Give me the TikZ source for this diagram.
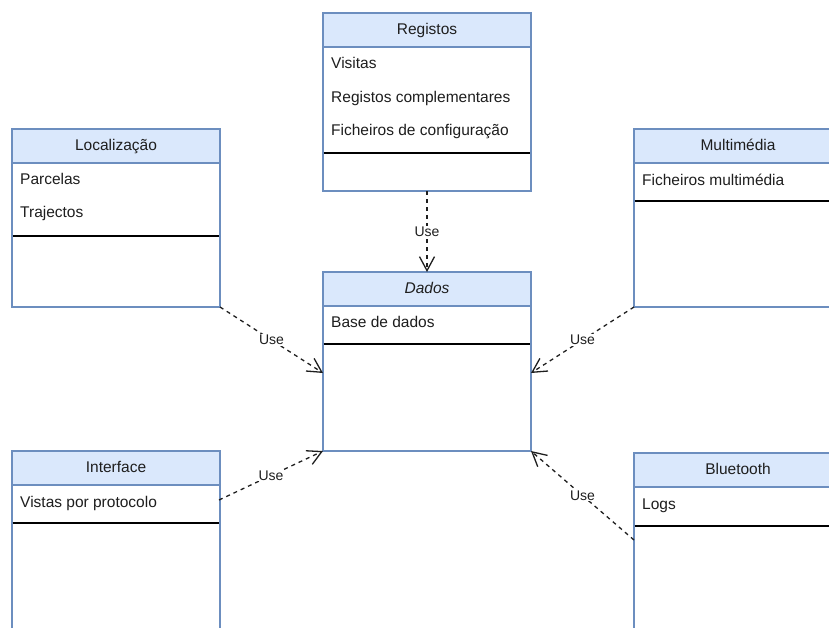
\documentclass[tikz,border=0pt]{standalone}
\usepackage{fontspec}
\setmainfont{Liberation Sans}
\usetikzlibrary{arrows.meta}
\definecolor{hdrfill}{HTML}{DAE8FC}
\definecolor{hdrline}{HTML}{6C8EBF}
\definecolor{txt}{HTML}{1E1E1E}

\begin{document}
\begin{tikzpicture}[x=1pt,y=-1pt,
  frame/.style={draw=hdrline, line width=1.3pt, fill=white, inner sep=0pt, outer sep=0pt,
                anchor=north west, minimum width=208pt},
  header/.style={draw=hdrline, line width=1.3pt, fill=hdrfill, inner sep=0pt, outer sep=0pt,
                 anchor=north west, minimum width=208pt, minimum height=34pt,
                 text height=11.5pt, text depth=2pt,
                 font=\fontsize{15.5}{18}\selectfont, text=txt},
  item/.style={anchor=west, inner sep=0pt, text height=11.5pt, text depth=2pt,
               font=\fontsize{15.5}{18}\selectfont, text=txt},
  sep/.style={line width=1.3pt, black},
  use/.style={dash pattern=on 4pt off 4pt, line width=1.3pt, draw=txt,
              -{Straight Barb[length=14pt,width=15pt,line width=1.3pt]}},
  lbl/.style={fill=white, inner sep=1pt, font=\fontsize{14}{16}\selectfont, text=txt}]

\useasboundingbox (0,0) rectangle (829,627);
\clip (0,0) rectangle (829,627);

% Registos
\node[frame, minimum height=178pt] (reg) at (323,13) {};
\node[header] (regh) at (323,13) {Registos};
\node[item] (reg1) at (331,64) {Visitas};
\node[item] (reg2) at (331,98) {Registos complementares};
\node[item] (reg3) at (331,131) {Ficheiros de configuração};
\draw[sep] (323.7,153) -- (530.3,153);

% Localização
\node[frame, minimum height=178pt] (loc) at (12,129) {};
\node[header] (loch) at (12,129) {Localização};
\node[item] (loc1) at (20,180) {Parcelas};
\node[item] (loc2) at (20,213) {Trajectos};
\draw[sep] (12.7,236) -- (219.3,236);

% Multimédia
\node[frame, minimum height=178pt] (mm) at (634,129) {};
\node[header] (mmh) at (634,129) {Multimédia};
\node[item] (mm1) at (642,181) {Ficheiros multimédia};
\draw[sep] (634.7,201) -- (841.3,201);

% Dados
\node[frame, minimum height=179pt] (dados) at (323,272) {};
\node[header] (dadosh) at (323,272) {\itshape Dados};
\node[item] (dados1) at (331,323) {Base de dados};
\draw[sep] (323.7,344) -- (530.3,344);

% Interface
\node[frame, minimum height=260pt] (ifc) at (12,451) {};
\node[header] (ifch) at (12,451) {Interface};
\node[item] (ifc1) at (20,503) {Vistas por protocolo};
\draw[sep] (12.7,523) -- (219.3,523);

% Bluetooth
\node[frame, minimum height=260pt] (bt) at (634,453) {};
\node[header] (bth) at (634,453) {Bluetooth};
\node[item] (bt1) at (642,505) {Logs};
\draw[sep] (634.7,526) -- (841.3,526);

% connector end points on the sides of the boxes
\coordinate (dW) at (323,373);
\coordinate (dE) at (531,373);
\coordinate (ifE) at (219,500);
\coordinate (btW) at (634,540);

% dependencies
\draw[use] (reg.south) -- node[lbl] {Use} (dados.north);
\draw[use] (loc.south east) -- node[lbl] {Use} (dW);
\draw[use] (mm.south west) -- node[lbl] {Use} (dE);
\draw[use] (ifE) -- node[lbl] {Use} (dados.south west);
\draw[use] (btW) -- node[lbl] {Use} (dados.south east);
\end{tikzpicture}
\end{document}
